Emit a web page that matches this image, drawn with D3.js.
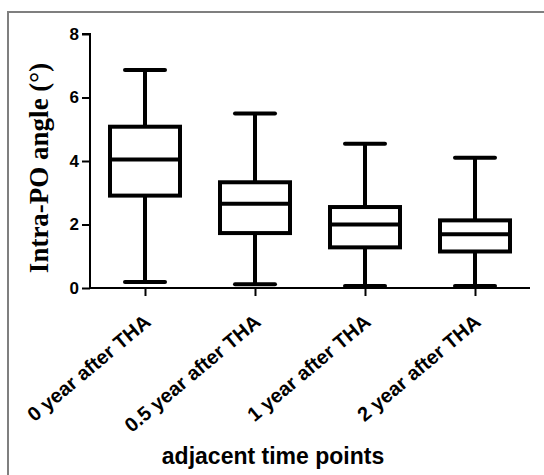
<!doctype html>
<html>
<head>
<meta charset="utf-8">
<script src="https://cdn.jsdelivr.net/npm/d3@7"></script>
<style>
  body { margin: 0; background: #fff; }
  svg { display: block; }
  .tick-label { font-family: "Liberation Sans", Arial, sans-serif; font-weight: bold; fill: #000; }
</style>
</head>
<body>
<svg id="chart" width="544" height="475"></svg>
<script>
  // values
  var categories = ['0 year after THA', '0.5 year after THA', '1 year after THA', '2 year after THA'];
  var whiskerLow = [0.19, 0.12, 0.06, 0.06];
  var q1 = [2.91, 1.73, 1.28, 1.15];
  var median = [4.05, 2.65, 2.0, 1.69];
  var q3 = [5.08, 3.33, 2.55, 2.13];
  var whiskerHigh = [6.87, 5.5, 4.54, 4.1];
  var yTicks = [0, 2, 4, 6, 8];

  var svg = d3.select('#chart');

  // outer frame (runs off the right and bottom edges)
  svg.append('rect')
    .attr('x', 8).attr('y', 12)
    .attr('width', 600).attr('height', 600)
    .attr('fill', 'none')
    .attr('stroke', '#7f7f7f')
    .attr('stroke-width', 2);

  var x = d3.scalePoint().domain(categories).range([90, 530]).padding(0.5);
  var y = d3.scaleLinear().domain([0, 8]).range([288, 34]);

  var boxW = 70, capW = 40;

  var data = categories.map(function (c, i) {
    return { cat: c, lo: whiskerLow[i], q1: q1[i], med: median[i], q3: q3[i], hi: whiskerHigh[i] };
  });

  // axes
  var yAxis = d3.axisLeft(y).tickValues(yTicks).tickSize(8).tickPadding(3).tickFormat(d3.format('d'));
  var gy = svg.append('g').attr('transform', 'translate(90,0)').call(yAxis);
  gy.select('.domain').attr('stroke', '#000').attr('stroke-width', 2).attr('d', 'M-8,34H0V288');
  gy.selectAll('.tick line').attr('stroke', '#000').attr('stroke-width', 2);
  gy.selectAll('.tick text').attr('class', 'tick-label').style('font-size', '17px');

  var xAxis = d3.axisBottom(x).tickSize(8).tickFormat('');
  var gx = svg.append('g').attr('transform', 'translate(0,288)').call(xAxis);
  gx.select('.domain').attr('stroke', '#000').attr('stroke-width', 2).attr('d', 'M90,0H530');
  gx.selectAll('.tick line').attr('stroke', '#000').attr('stroke-width', 2);

  // rotated category labels
  svg.append('g').selectAll('text')
    .data(categories)
    .join('text')
    .attr('class', 'tick-label')
    .style('font-size', '20px')
    .attr('text-anchor', 'end')
    .attr('transform', function (d) { return 'translate(' + (x(d) + 7) + ',324) rotate(-40)'; })
    .text(function (d) { return d; });

  // boxes
  var boxes = svg.append('g').selectAll('g')
    .data(data)
    .join('g')
    .attr('stroke', '#000')
    .attr('stroke-width', 4)
    .attr('fill', 'none');

  boxes.append('line')
    .attr('x1', function (d) { return x(d.cat); })
    .attr('x2', function (d) { return x(d.cat); })
    .attr('y1', function (d) { return y(d.hi); })
    .attr('y2', function (d) { return y(d.q3); });
  boxes.append('line')
    .attr('x1', function (d) { return x(d.cat); })
    .attr('x2', function (d) { return x(d.cat); })
    .attr('y1', function (d) { return y(d.q1); })
    .attr('y2', function (d) { return y(d.lo); });
  boxes.append('line')
    .attr('stroke-linecap', 'round')
    .attr('x1', function (d) { return x(d.cat) - capW / 2; })
    .attr('x2', function (d) { return x(d.cat) + capW / 2; })
    .attr('y1', function (d) { return y(d.hi); })
    .attr('y2', function (d) { return y(d.hi); });
  boxes.append('line')
    .attr('stroke-linecap', 'round')
    .attr('x1', function (d) { return x(d.cat) - capW / 2; })
    .attr('x2', function (d) { return x(d.cat) + capW / 2; })
    .attr('y1', function (d) { return y(d.lo); })
    .attr('y2', function (d) { return y(d.lo); });
  boxes.append('rect')
    .attr('x', function (d) { return x(d.cat) - boxW / 2; })
    .attr('width', boxW)
    .attr('y', function (d) { return y(d.q3); })
    .attr('height', function (d) { return y(d.q1) - y(d.q3); });
  boxes.append('line')
    .attr('x1', function (d) { return x(d.cat) - boxW / 2; })
    .attr('x2', function (d) { return x(d.cat) + boxW / 2; })
    .attr('y1', function (d) { return y(d.med); })
    .attr('y2', function (d) { return y(d.med); });

  // axis titles
  svg.append('text')
    .attr('transform', 'translate(48,168) rotate(-90)')
    .attr('text-anchor', 'middle')
    .style('font-family', '"Liberation Serif", "Times New Roman", serif')
    .style('font-weight', 'bold')
    .style('font-size', '27px')
    .text('Intra-PO angle (°)');

  svg.append('text')
    .attr('x', 273).attr('y', 464)
    .attr('text-anchor', 'middle')
    .style('font-family', '"Liberation Sans", Arial, sans-serif')
    .style('font-weight', 'bold')
    .style('font-size', '23px')
    .text('adjacent time points');
</script>
</body>
</html>
